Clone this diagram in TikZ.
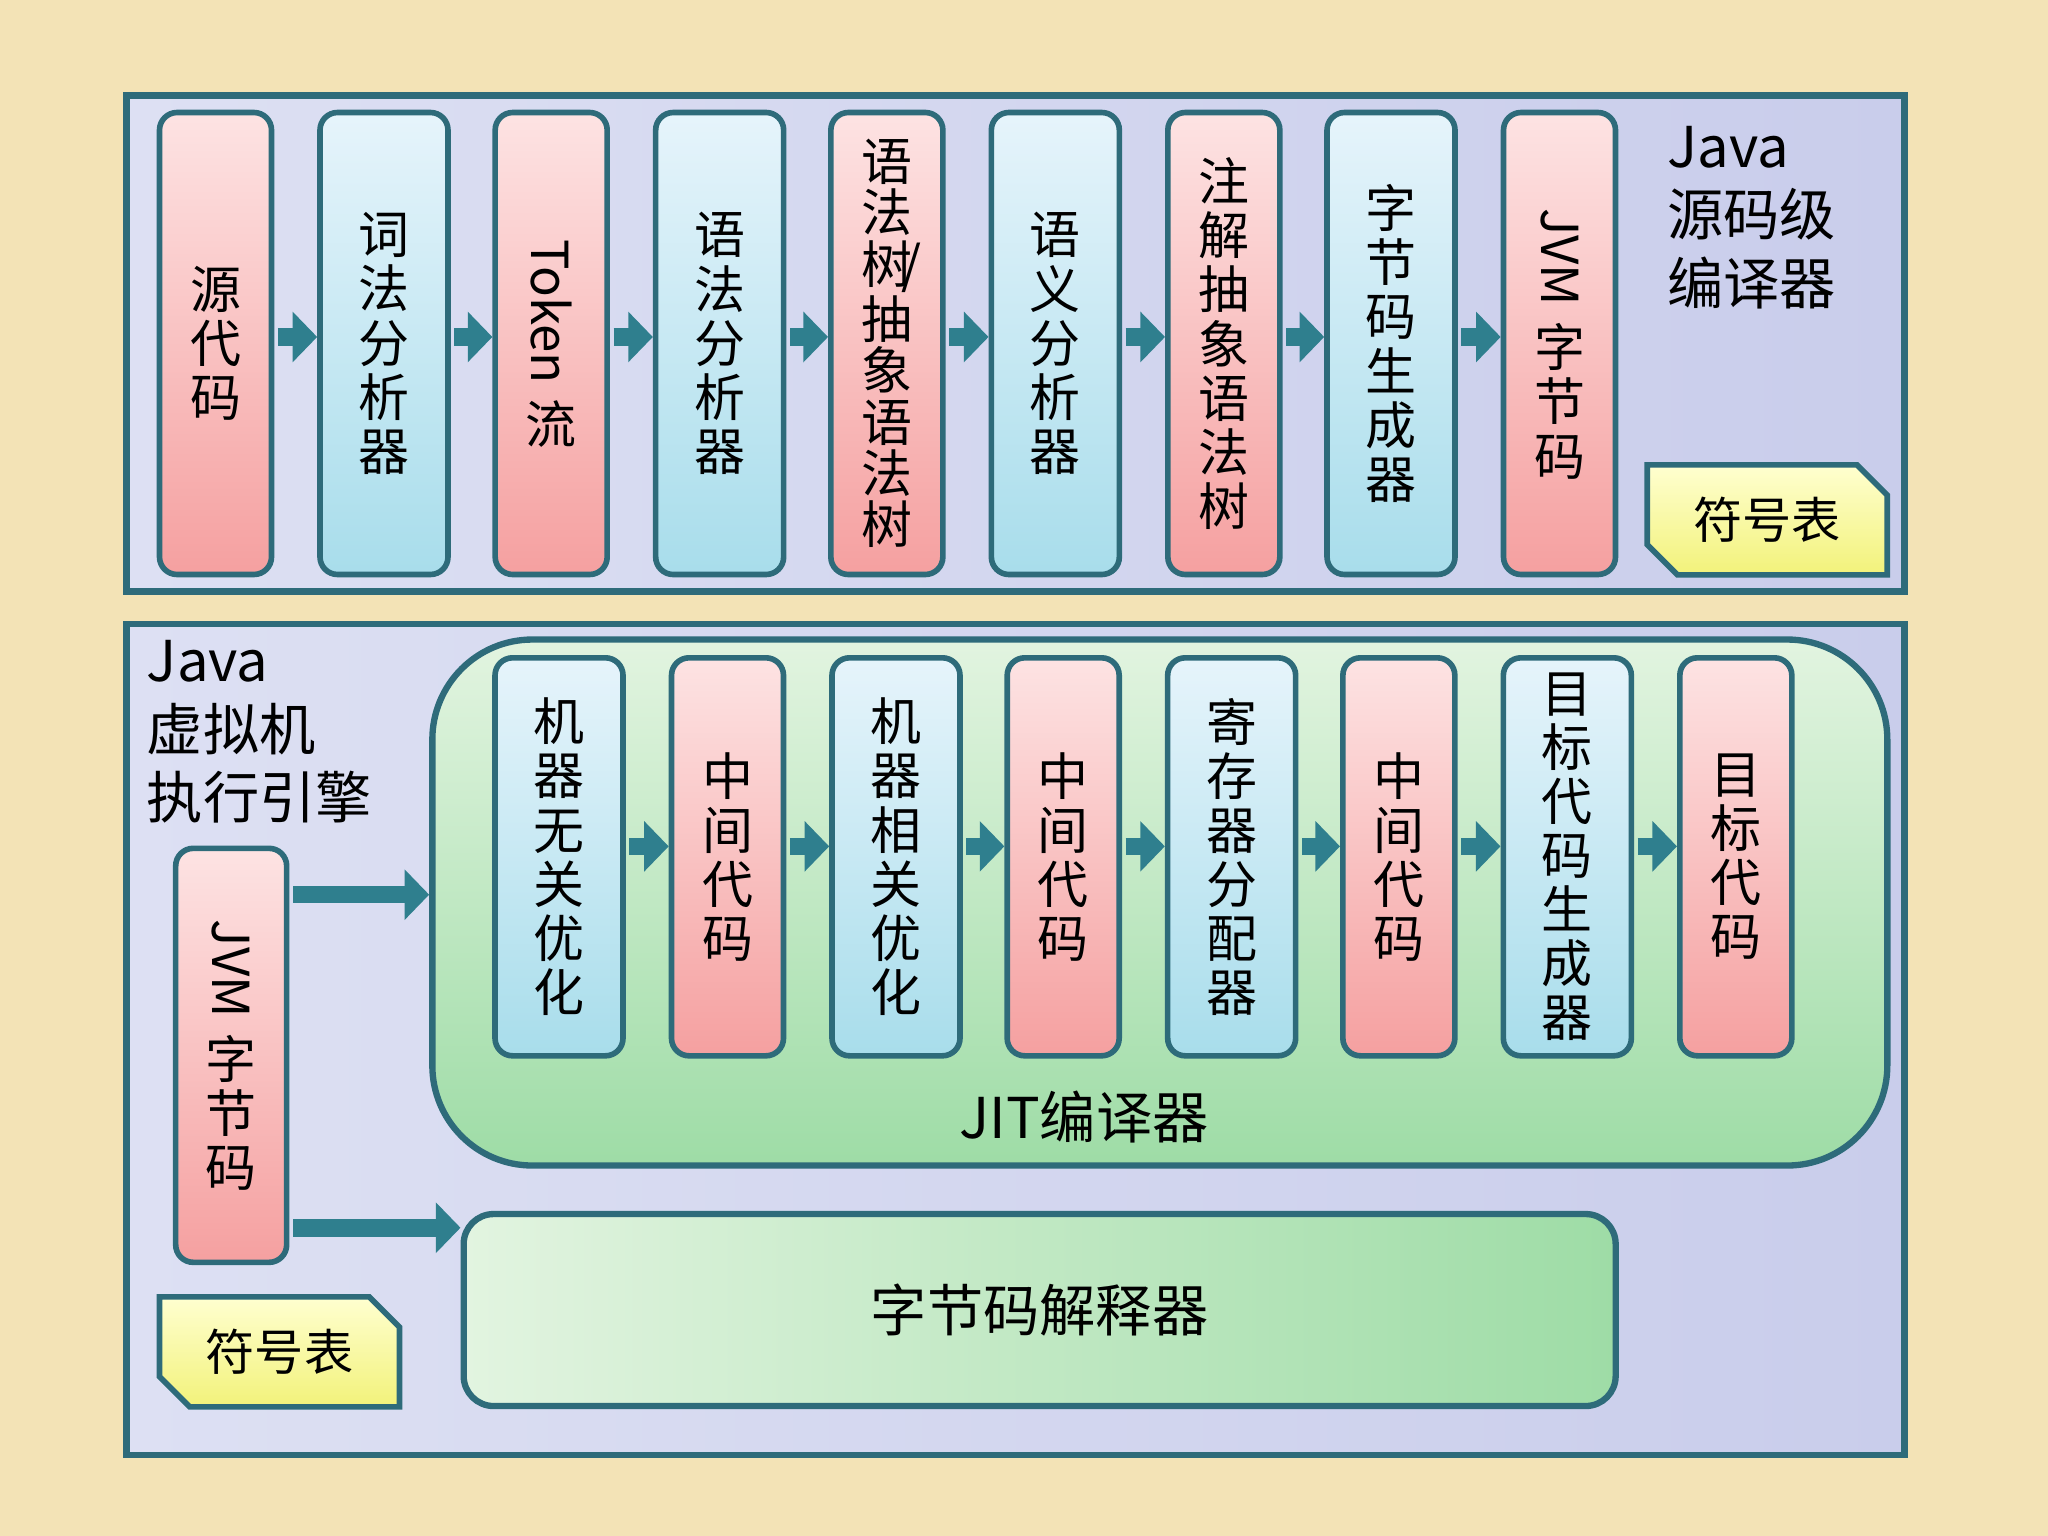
\documentclass[tikz,border=0pt]{standalone}
\usepackage{fontspec}
\setmainfont{Noto Sans CJK SC}
\usetikzlibrary{shapes.misc,arrows.meta}
\definecolor{bd}{HTML}{2E6B7A}
\definecolor{ar}{HTML}{2F7F8E}
\definecolor{bg}{HTML}{F3E3B6}
\definecolor{pl}{HTML}{DDE0F3}
\definecolor{pr}{HTML}{C9CDEB}
\definecolor{rt}{HTML}{FDE3E3}
\definecolor{rb}{HTML}{F5A0A0}
\definecolor{bt}{HTML}{E6F4FB}
\definecolor{bb}{HTML}{A8DDEB}
\definecolor{gt}{HTML}{E2F4E0}
\definecolor{gb}{HTML}{9EDCA6}
\definecolor{yt}{HTML}{FFFFD0}
\definecolor{yb}{HTML}{F2F27A}
\begin{document}
\begin{tikzpicture}[x=0.013061cm,y=-0.013061cm,
 txt/.style={font=\fontsize{14.5}{15.4}\selectfont,align=center,inner sep=0pt},
 base/.style={draw=bd,line width=1.6pt,rounded corners=5pt,inner sep=0pt,txt},
 red/.style={base,top color=rt,bottom color=rb,minimum width=1.12cm},
 blue/.style={base,top color=bt,bottom color=bb,minimum width=1.28cm},
 tall/.style={minimum height=4.62cm},
 mid/.style={minimum height=3.98cm},
 arr/.style={draw=ar,line width=5pt,-{Triangle[length=7pt,width=14pt]},shorten <=1pt},
 sym/.style={chamfered rectangle,chamfered rectangle corners={north east,south west},chamfered rectangle xsep=5pt,draw=bd,line width=1.6pt,top color=yt,bottom color=yb,minimum width=2.4cm,minimum height=1.1cm,font=\fontsize{14}{15}\selectfont}]
\newcommand{\rl}[1]{\rotatebox{-90}{#1}}
\useasboundingbox (0,0) rectangle (1568,1176);
\fill[bg] (0,0) rectangle (1568,1176);
% panels
\node[draw=bd,line width=1.8pt,left color=pl,right color=pr,minimum width=17.78cm,minimum height=4.96cm,inner sep=0pt] (p1) at (777.5,263) {};
\node[draw=bd,line width=1.8pt,left color=pl,right color=pr,minimum width=17.78cm,minimum height=8.31cm,inner sep=0pt] (p2) at (777.5,796) {};
% top row
\node[red,tall] (t1) at (165,263) {源\\代\\码};
\node[blue,tall] (t2) at (294,263) {词\\法\\分\\析\\器};
\node[red,tall] (t3) at (422,263) {\rl{Token}\\[4pt]流};
\node[blue,tall] (t4) at (551,263) {语\\法\\分\\析\\器};
\node[red,tall,font=\fontsize{14.5}{14.6}\selectfont] (t5) at (679,263) {语\\法\\树\rlap{\kern-3pt/}\\抽\\象\\语\\法\\树};
\node[blue,tall] (t6) at (808,263) {语\\义\\分\\析\\器};
\node[red,tall] (t7) at (937,263) {注\\解\\抽\\象\\语\\法\\树};
\node[blue,tall] (t8) at (1065,263) {字\\节\\码\\生\\成\\器};
\node[red,tall] (t9) at (1194,263) {\rl{JVM}\\[4pt]字\\节\\码};
\foreach \a/\b in {t1/t2,t2/t3,t3/t4,t4/t5,t5/t6,t6/t7,t7/t8,t8/t9}
  \draw[arr] (\a.east|-0,258) -- (\b.west|-0,258);
\node[txt,anchor=north west,align=left,font=\fontsize{16}{19.5}\selectfont] (l1) at (1276,96) {Java\\源码级\\编译器};
\node[sym] (s1) at (1353,398) {符号表};
% bottom
\node[txt,anchor=north west,align=left,font=\fontsize{16}{19.5}\selectfont] (l2) at (112,490) {Java\\虚拟机\\执行引擎};
\node[draw=bd,line width=1.8pt,rounded corners=1.0cm,top color=gt,bottom color=gb,minimum width=14.55cm,minimum height=5.26cm,inner sep=0pt] (jit) at (888,691) {};
\node[txt,font=\fontsize{16}{18}\selectfont] (jl) at (830,855) {JIT编译器};
\node[red,minimum width=1.11cm,minimum height=4.14cm] (jvm) at (177,808) {\rl{JVM}\\[4pt]字\\节\\码};
\node[draw=bd,line width=1.8pt,rounded corners=0.3cm,left color=gt,right color=gb,minimum width=11.52cm,minimum height=1.92cm,inner sep=0pt,font=\fontsize{16}{18}\selectfont] (interp) at (796,1003) {字节码解释器};
\node[sym] (s2) at (214,1035) {符号表};
\node[blue,mid] (b1) at (428,656) {机\\器\\无\\关\\优\\化};
\node[red,mid] (b2) at (557,656) {中\\间\\代\\码};
\node[blue,mid] (b3) at (686,656) {机\\器\\相\\关\\优\\化};
\node[red,mid] (b4) at (814,656) {中\\间\\代\\码};
\node[blue,mid] (b5) at (943,656) {寄\\存\\器\\分\\配\\器};
\node[red,mid] (b6) at (1071,656) {中\\间\\代\\码};
\node[blue,mid] (b7) at (1200,656) {目\\标\\代\\码\\生\\成\\器};
\node[red,mid] (b8) at (1329,656) {目\\标\\代\\码};
\foreach \a/\b in {b1/b2,b2/b3,b3/b4,b4/b5,b5/b6,b6/b7,b7/b8}
  \draw[arr] (\a.east|-0,648) -- (\b.west|-0,648);
\draw[arr] (jvm.east|-0,685) -- (jit.west|-0,685);
\draw[arr] (jvm.east|-0,940) -- (interp.west|-0,940);
\end{tikzpicture}
\end{document}
